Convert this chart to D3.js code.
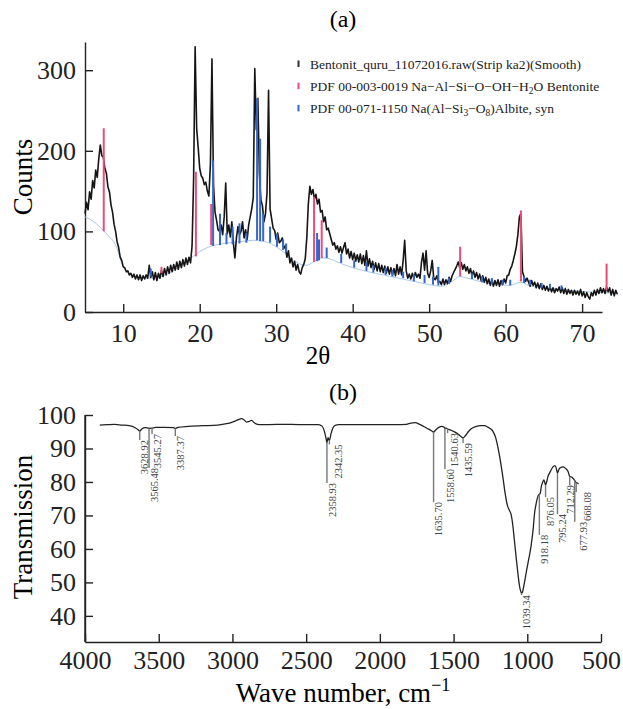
<!DOCTYPE html>
<html>
<head>
<meta charset="utf-8">
<script src="https://cdn.jsdelivr.net/npm/d3@7"></script>
<style>
  body { margin: 0; background: #fff; }
  svg text { font-family: "Liberation Serif", "Times New Roman", serif; }
</style>
</head>
<body>
<div id="chart"></div>
<script>
// ---- (a) XRD pattern: counts, one value every 0.2 deg from 5.0
var xrdStart = 5.0;
var xrdStep = 0.2;
var xrdCounts = [
    122,136,127,149,140,163,154,176,167,190,
    207,194,192,178,172,155,149,133,124,109,
    100,87,80,68,64,56,55,50,51,46,
    48,43,47,41,46,40,46,39,45,41,
    46,42,58,43,50,40,49,39,48,42,
    52,44,54,46,56,48,58,50,59,52,
    62,53,63,55,65,57,67,59,68,61,
    82,165,329,228,204,178,169,166,158,161,
    150,144,184,314,158,124,114,102,100,108,
    96,118,160,97,108,93,112,86,67,92,
    106,96,100,112,92,102,90,108,118,128,
    142,302,226,265,172,139,132,112,122,148,
    275,128,116,104,101,90,98,86,88,92,
    79,82,68,76,61,67,56,63,52,59,
    50,47,55,59,66,92,134,156,146,152,
    140,146,134,140,124,126,112,118,102,104,
    97,90,83,86,78,82,74,81,73,80,
    86,72,78,67,75,65,73,63,71,62,
    72,60,70,58,76,57,66,55,63,53,
    61,51,60,50,58,49,57,48,56,47,
    55,46,54,45,59,47,56,46,64,89,
    51,42,47,41,48,42,49,43,47,42,
    62,73,52,76,48,43,51,64,42,40,
    45,37,38,34,41,34,40,35,43,38,
    45,49,53,57,62,55,61,53,59,51,
    56,48,54,45,51,43,49,41,47,39,
    45,37,43,35,41,33,40,32,39,33,
    40,32,39,34,41,36,45,46,53,57,
    64,72,81,96,118,122,50,44,38,42,
    37,32,39,33,37,30,36,29,35,28,
    33,27,32,26,31,25,30,24,29,26,
    31,24,30,23,29,22,28,23,27,21,
    27,22,26,21,28,20,25,18,24,19,
    16,24,20,27,21,28,23,30,24,29,
    23,31,25,30,21,28,20,27,22
];

// fitted background under the pattern
var bgTheta  = [5, 6, 7, 8, 9, 10, 11, 12, 13, 14, 15, 16, 17, 18, 19, 20, 21, 22, 23, 24, 25, 26, 27, 28, 29, 30, 31, 32, 33, 34, 35, 36, 37, 38, 40, 42, 44, 46, 48, 50, 51.5, 53, 54, 55, 57, 59, 60.5, 62, 63, 65, 67, 69, 71, 73, 74.6];
var bgCounts = [118, 113, 105, 95, 83, 56, 46, 43, 42, 42, 44, 48, 54, 60, 68, 75, 80, 83, 85, 86, 87, 88, 89, 88, 86, 81, 74, 66, 60, 58, 63, 67, 66, 62, 55, 50, 46, 42, 38, 34, 32, 38, 44, 42, 37, 34, 33, 37, 33, 30, 28, 26, 25, 24, 23];

// PDF 00-003-0019 bentonite sticks
var bentonitePos  = [7.45, 15.0, 19.5, 21.5, 34.95, 35.95, 54.05, 62.0, 73.2];
var bentoniteBase = [100, 48, 69, 83, 62, 67, 44, 38, 27];
var bentoniteTop  = [228, 56, 174, 134, 143, 114, 81, 126, 60];

// PDF 00-071-1150 albite sticks
var albitePos  = [13.6, 21.75, 22.65, 23.5, 24.3, 25.2, 26.1, 27.5, 27.9, 28.3, 29.2, 30.1, 30.9, 31.3, 35.35, 35.6, 36.6, 38.5, 40.2, 41.8, 42.7, 44.3, 45.2, 46.6, 48.0, 49.4, 50.5, 51.2, 52.6, 55.6, 56.9, 58.2, 59.6, 60.6, 62.4, 63.2, 64.7, 65.8, 67.3];
var albiteBase = [44, 82, 83, 84, 84, 85, 86, 89, 88, 88, 86, 81, 77, 74, 63, 64, 67, 61, 55, 51, 49, 46, 44, 42, 38, 36, 34, 33, 35, 41, 37, 35, 34, 33, 36, 33, 30, 29, 28];
var albiteTop  = [54, 188, 122, 98, 106, 110, 98, 265, 215, 122, 106, 97, 90, 85, 98, 90, 80, 72, 64, 62, 58, 55, 52, 50, 46, 46, 44, 56, 42, 48, 44, 42, 40, 40, 44, 40, 36, 35, 33];

var xrdTicksX = [10, 20, 30, 40, 50, 60, 70];
var xrdTicksY = [0, 100, 200, 300];

// ---- (b) IR spectrum
var irWave = [3900, 3850, 3800, 3750, 3700, 3660, 3640, 3629, 3615, 3590, 3570, 3560, 3545, 3520, 3460, 3400, 3387, 3370, 3300, 3200, 3100, 3040, 3000, 2960, 2940, 2920, 2905, 2890, 2870, 2850, 2830, 2800, 2700, 2600, 2500, 2420, 2395, 2378, 2365, 2359, 2352, 2347, 2342, 2332, 2318, 2300, 2280, 2200, 2100, 2000, 1900, 1820, 1790, 1760, 1730, 1700, 1670, 1650, 1636, 1620, 1600, 1580, 1565, 1559, 1550, 1541, 1520, 1500, 1470, 1450, 1436, 1420, 1400, 1380, 1350, 1320, 1290, 1268, 1250, 1234, 1215, 1200, 1185, 1166, 1150, 1135, 1121, 1110, 1098, 1088, 1076, 1064, 1053, 1045, 1039, 1033, 1025, 1015, 1005, 990, 974, 960, 951, 940, 930, 922, 918, 912, 905, 895, 888, 882, 876, 870, 860, 845, 826, 812, 804, 795, 788, 780, 768, 757, 745, 734, 722, 712, 705, 690, 678, 672, 668, 660, 652];
var irTrans = [97.0, 97.1, 97.2, 97.0, 96.8, 96.2, 95.6, 95.2, 95.8, 96.2, 96.1, 96.0, 96.1, 96.3, 96.3, 96.2, 96.0, 96.3, 96.6, 96.8, 97.0, 97.4, 97.9, 98.6, 98.9, 98.5, 97.9, 98.0, 98.4, 97.6, 97.2, 97.1, 97.2, 97.2, 97.1, 97.1, 96.8, 95.4, 93.0, 91.7, 93.2, 92.8, 92.4, 94.3, 96.2, 97.0, 97.1, 97.1, 97.1, 97.1, 97.1, 97.2, 97.6, 97.7, 97.2, 96.5, 95.8, 95.3, 94.9, 95.6, 96.3, 96.6, 96.4, 96.0, 96.1, 95.8, 95.5, 95.1, 94.3, 93.6, 93.2, 93.8, 95.0, 95.9, 96.5, 96.8, 96.8, 96.4, 95.9, 95.2, 93.3, 90.5, 87.0, 81.6, 76.5, 73.0, 71.5, 70.3, 67.0, 62.8, 57.7, 52.8, 49.0, 47.4, 46.8, 47.1, 48.6, 51.0, 53.5, 57.0, 61.0, 66.0, 70.5, 73.5, 75.4, 76.2, 76.3, 76.6, 78.6, 80.0, 80.6, 80.0, 79.1, 79.8, 81.6, 83.0, 84.5, 84.9, 84.2, 82.6, 83.5, 84.1, 84.4, 84.5, 84.2, 83.8, 83.0, 81.6, 81.6, 81.1, 80.4, 80.0, 79.8, 79.7, 79.4];

// marked bands: where the marker starts (on the curve) and ends
var peakWave   = [3628.92, 3565.48, 3545.27, 3387.37, 2358.93, 2342.35, 1635.70, 1558.60, 1540.63, 1435.59, 1039.34, 918.18, 876.05, 795.24, 712.29, 677.93, 668.08];
var peakTop    = [95.2, 96.0, 96.1, 96.0, 91.7, 92.4, 94.9, 96.0, 95.8, 93.2, 46.8, 76.3, 79.1, 82.6, 81.6, 80.4, 79.8];
var peakBottom = [92.5, 84.2, 94.3, 93.7, 79.7, 91.2, 74.0, 83.9, 94.6, 91.6, 46.2, 64.2, 75.5, 70.4, 79.1, 68.1, 77.0];

var irTicksX = [4000, 3500, 3000, 2500, 2000, 1500, 1000, 500];
var irTicksY = [40, 50, 60, 70, 80, 90, 100];

var pink = "#ec4b7b";
var blue = "#3566cc";
var serif = "'Liberation Serif', 'Times New Roman', serif";

var svg = d3.select("#chart")
  .append("svg")
    .attr("width", 623)
    .attr("height", 709);

function styleAxis(g, size) {
    g.attr("font-family", null)
        .attr("font-size", null)
        .attr("color", "#222");
    g.selectAll("text").style("font-family", serif).style("font-size", size + "px");
    g.selectAll("path, line").attr("stroke-width", 1.4);
}

// =====================================================================================================================
// panel (a)
var xA = d3.scaleLinear().domain([5, 72.6]).range([85, 602]);
var yA = d3.scaleLinear().domain([0, 335]).range([312, 42]);

svg.append("g")
    .attr("transform", "translate(0,312)")
    .call(d3.axisBottom(xA).tickValues(xrdTicksX).tickSizeInner(-8).tickSizeOuter(0).tickPadding(12))
    .call(styleAxis, 26);

svg.append("g")
    .attr("transform", "translate(85,0)")
    .call(d3.axisLeft(yA).tickValues(xrdTicksY).tickSizeInner(-8).tickSizeOuter(0).tickPadding(9))
    .call(styleAxis, 26);

// background
svg.append("path")
    .datum(bgTheta)
    .attr("fill", "none")
    .attr("stroke", "#a9c7ea")
    .attr("stroke-width", 1)
    .attr("d", d3.line()
        .x(function (d) { return xA(d); })
        .y(function (d, i) { return yA(bgCounts[i]); })
        .curve(d3.curveMonotoneX));

svg.append("path")
    .datum(xrdCounts)
    .attr("fill", "none")
    .attr("stroke", "#151515")
    .attr("stroke-width", 1.6)
    .attr("stroke-linejoin", "round")
    .attr("d", d3.line()
        .x(function (d, i) { return xA(xrdStart + xrdStep * i); })
        .y(function (d) { return yA(d); }));

svg.append("g")
    .selectAll("line")
    .data(albitePos)
    .enter()
    .append("line")
    .attr("x1", function (d) { return xA(d); })
    .attr("x2", function (d) { return xA(d); })
    .attr("y1", function (d, i) { return yA(albiteBase[i]); })
    .attr("y2", function (d, i) { return yA(albiteTop[i]); })
    .attr("stroke", blue)
    .attr("stroke-width", 2);

svg.append("g")
    .selectAll("line")
    .data(bentonitePos)
    .enter()
    .append("line")
    .attr("x1", function (d) { return xA(d); })
    .attr("x2", function (d) { return xA(d); })
    .attr("y1", function (d, i) { return yA(bentoniteBase[i]); })
    .attr("y2", function (d, i) { return yA(bentoniteTop[i]); })
    .attr("stroke", pink)
    .attr("stroke-width", 2);

// legend
var legend = svg.append("g").attr("font-size", 13.5).attr("fill", "#222");
var legendColors = ["#333", pink, blue];
legendColors.forEach(function (c, i) {
    var base = 68.5 + i * 22.2;
    legend.append("rect")
        .attr("x", 297.5).attr("y", base - 8)
        .attr("width", 2).attr("height", 6.5)
        .attr("fill", c);
});
legend.append("text").attr("x", 310).attr("y", 68.5)
    .text("Bentonit_quru_11072016.raw(Strip ka2)(Smooth)");
var t2 = legend.append("text").attr("x", 310).attr("y", 90.7);
t2.append("tspan").text("PDF 00-003-0019 Na\u2212Al\u2212Si\u2212O\u2212OH\u2212H");
t2.append("tspan").attr("font-size", 9.5).attr("dy", 3).text("2");
t2.append("tspan").attr("dy", -3).text("O Bentonite");
var t3 = legend.append("text").attr("x", 310).attr("y", 112.9);
t3.append("tspan").text("PDF 00-071-1150 Na(Al\u2212Si");
t3.append("tspan").attr("font-size", 9.5).attr("dy", 3).text("3");
t3.append("tspan").attr("dy", -3).text("\u2212O");
t3.append("tspan").attr("font-size", 9.5).attr("dy", 3).text("8");
t3.append("tspan").attr("dy", -3).text(")Albite, syn");

svg.append("text")
    .attr("x", 343).attr("y", 27)
    .attr("text-anchor", "middle")
    .attr("font-size", 24)
    .text("(a)");

svg.append("text")
    .attr("transform", "translate(32,177) rotate(-90)")
    .attr("text-anchor", "middle")
    .attr("font-size", 27)
    .text("Counts");

svg.append("text")
    .attr("x", 318).attr("y", 364)
    .attr("text-anchor", "middle")
    .attr("font-size", 25)
    .text("2\u03b8");

// =====================================================================================================================
// panel (b)
var xB = d3.scaleLinear().domain([4000, 500]).range([85, 601]);
var yB = d3.scaleLinear().domain([32.2, 100]).range([642, 415]);

svg.append("text")
    .attr("x", 343).attr("y", 400)
    .attr("text-anchor", "middle")
    .attr("font-size", 24)
    .text("(b)");

svg.append("g")
    .attr("transform", "translate(0,642)")
    .call(d3.axisBottom(xB).tickValues(irTicksX).tickFormat(d3.format("d"))
        .tickSizeInner(-8).tickSizeOuter(0).tickPadding(9))
    .call(styleAxis, 26);

svg.append("g")
    .attr("transform", "translate(85,0)")
    .call(d3.axisLeft(yB).tickValues(irTicksY).tickSizeInner(-8).tickSizeOuter(0).tickPadding(9))
    .call(styleAxis, 26);

// the y axis line runs from the bottom axis up to 100
svg.append("line")
    .attr("x1", 85).attr("x2", 85)
    .attr("y1", yB(32.2)).attr("y2", yB(100))
    .attr("stroke", "#222").attr("stroke-width", 1.4);

svg.append("path")
    .datum(irWave)
    .attr("fill", "none")
    .attr("stroke", "#222")
    .attr("stroke-width", 1.3)
    .attr("d", d3.line()
        .x(function (d) { return xB(d); })
        .y(function (d, i) { return yB(irTrans[i]); })
        .curve(d3.curveMonotoneX));

var peaks = svg.append("g");
peaks.selectAll("line")
    .data(peakWave)
    .enter()
    .append("line")
    .attr("x1", function (d) { return xB(d); })
    .attr("x2", function (d) { return xB(d); })
    .attr("y1", function (d, i) { return yB(peakTop[i]); })
    .attr("y2", function (d, i) { return yB(peakBottom[i]); })
    .attr("stroke", "#777")
    .attr("stroke-width", 1.4);

// labels sit just right of their marker; a few are nudged apart where they crowd
var labelNudge = {"2342.35": 9, "1540.63": 7, "712.29": 1, "677.93": 9, "668.08": 11};
peaks.selectAll("text")
    .data(peakWave)
    .enter()
    .append("text")
    .attr("transform", function (d, i) {
        var dx = labelNudge[d.toFixed(2)] !== undefined ? labelNudge[d.toFixed(2)] : 5;
        return "translate(" + (xB(d) + dx) + "," + yB(peakBottom[i]) + ") rotate(-90)";
    })
    .attr("text-anchor", "end")
    .attr("dy", "0.35em")
    .attr("font-size", 10.5)
    .attr("fill", "#444")
    .text(function (d) { return d.toFixed(2); });

svg.append("text")
    .attr("transform", "translate(32,527) rotate(-90)")
    .attr("text-anchor", "middle")
    .attr("font-size", 27)
    .text("Transmission");

var xt = svg.append("text")
    .attr("x", 343).attr("y", 702)
    .attr("text-anchor", "middle")
    .attr("font-size", 27);
xt.append("tspan").text("Wave number, cm");
xt.append("tspan").attr("font-size", 18).attr("dy", -11).text("\u22121");
</script>
</body>
</html>
